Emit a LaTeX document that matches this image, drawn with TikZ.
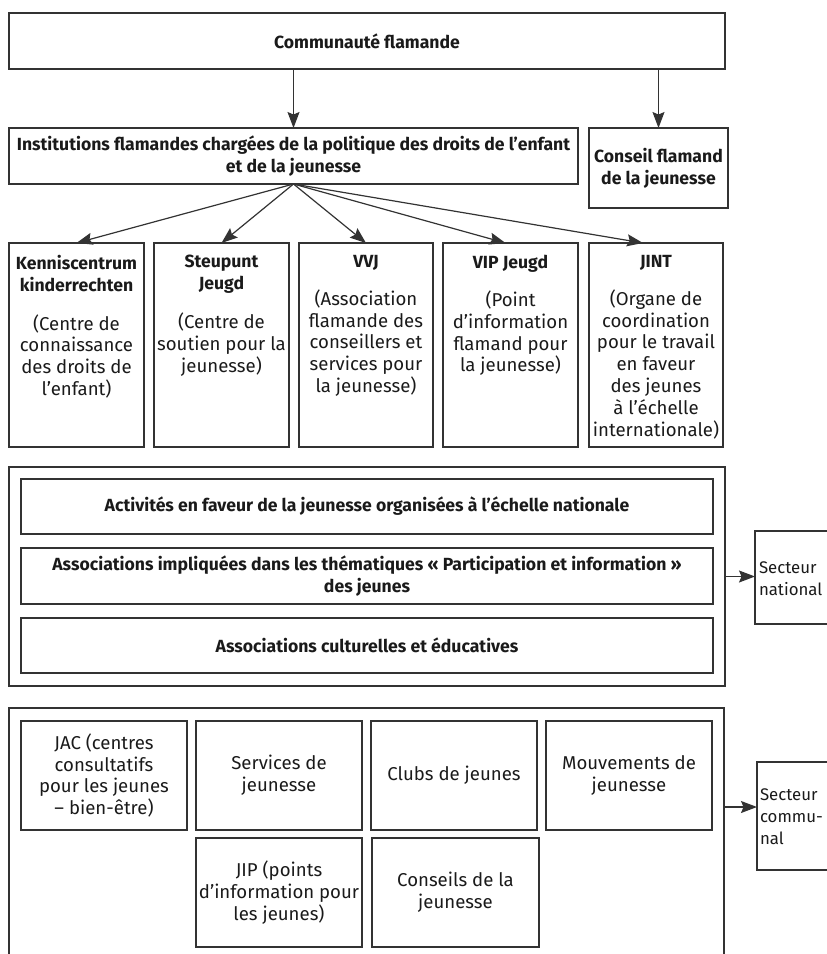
\documentclass[tikz,border=0pt]{standalone}
\usepackage{fontspec}
\setmainfont{Fira Sans}
\usetikzlibrary{arrows.meta,calc}
\definecolor{linec}{HTML}{333333}
\definecolor{textc}{HTML}{1A1A1A}
\newcommand\fsz{\fontsize{18.6pt}{21.9pt}\selectfont}
\newcommand\fsside{\fontsize{16.8pt}{22pt}\selectfont}
\newcommand\bt[1]{{\fontsize{17.6pt}{21.9pt}\selectfont\bfseries #1}}
\tikzset{
  bx/.style={draw=linec, line width=1.2pt, inner sep=0pt, outer sep=0pt, align=center, font=\fsz, text=textc},
  txt/.style={inner sep=0pt, outer sep=0pt, align=center, font=\fsz, text=textc},
  sidetxt/.style={inner sep=0pt, outer sep=0pt, align=left, font=\fsside, text=textc},
  arr/.style={draw=linec, line width=1.2pt, -{Stealth[length=16pt,width=12pt,inset=2.5pt]}}
}
\begin{document}
\begin{tikzpicture}[x=1pt,y=-1pt]
\useasboundingbox (0,0) rectangle (827,954);
\clip (0,0) rectangle (827,954);
% top level
\node[bx, minimum width=716pt, minimum height=56pt] (comm) at (367,41) {\bt{Communauté flamande}};
\node[bx, minimum width=569pt, minimum height=56pt] (inst) at (293.5,156) {\bt{Institutions flamandes chargées de la politique des droits de l’enfant}\\\bt{et de la jeunesse}};
\node[bx, minimum width=139pt, minimum height=80pt] (cons) at (658.5,168) {\bt{Conseil flamand}\\\bt{de la jeunesse}};
% institutions row
\node[bx, minimum width=135pt, minimum height=204pt] (kenn) at (76.5,345) {};
\node[bx, minimum width=135pt, minimum height=204pt] (steu) at (221.5,345) {};
\node[bx, minimum width=134pt, minimum height=204pt] (vvj) at (366,345) {};
\node[bx, minimum width=135pt, minimum height=204pt] (vip) at (510.5,345) {};
\node[bx, minimum width=134pt, minimum height=204pt] (jint) at (656,345) {};
\node[txt, anchor=north] (kennt) at ($(kenn.north)+(0,12)$) {\bt{Kenniscentrum}\\\bt{kinderrechten}\\[17pt](Centre de\\connaissance\\des droits de\\l’enfant)};
\node[txt, anchor=north] (steut) at ($(steu.north)+(0,12)$) {\bt{Steupunt}\\\bt{Jeugd}\\[17pt](Centre de\\soutien pour la\\jeunesse)};
\node[txt, anchor=north] (vvjt) at ($(vvj.north)+(0,12)$) {\bt{VVJ}\\[16pt](Association\\flamande des\\conseillers et\\services pour\\la jeunesse)};
\node[txt, anchor=north] (vipt) at ($(vip.north)+(0,12)$) {\bt{VIP Jeugd}\\[16pt](Point\\d’information\\flamand pour\\la jeunesse)};
\node[txt, anchor=north] (jintt) at ($(jint.north)+(0,12)$) {\bt{JINT}\\[16pt](Organe de\\coordination\\pour le travail\\en faveur\\des jeunes\\à l’échelle\\internationale)};
% national sector
\node[bx, minimum width=716pt, minimum height=219pt] (nat) at (367,576.5) {};
\node[bx, minimum width=692pt, minimum height=55pt] (act) at (367,506.5) {\bt{Activités en faveur de la jeunesse organisées à l’échelle nationale}};
\node[bx, minimum width=692pt, minimum height=56pt] (assp) at (367,576) {\bt{Associations impliquées dans les thématiques « Participation et information »}\\\bt{des jeunes}};
\node[bx, minimum width=692pt, minimum height=55pt] (assc) at (367,645.5) {\bt{Associations culturelles et éducatives}};
\node[bx, minimum width=85pt, minimum height=93pt] (secn) at (797.5,577.5) {};
\node[sidetxt, anchor=west] (secnt) at (759,579) {Secteur\\national};
% communal sector
\node[bx, minimum width=715pt, minimum height=262pt] (com) at (366.5,839) {};
\node[bx, minimum width=166pt, minimum height=109pt] (jac) at (104,775.5) {JAC (centres\\consultatifs\\pour les jeunes\\– bien-être)};
\node[bx, minimum width=166pt, minimum height=109pt] (serv) at (279,775.5) {Services de\\jeunesse};
\node[bx, minimum width=166pt, minimum height=109pt] (club) at (454,775.5) {Clubs de jeunes};
\node[bx, minimum width=166pt, minimum height=109pt] (mouv) at (629,775.5) {Mouvements de\\jeunesse};
\node[bx, minimum width=166pt, minimum height=109pt] (jip) at (279,892.5) {JIP (points\\d’information pour\\les jeunes)};
\node[bx, minimum width=167pt, minimum height=109pt] (conj) at (455.5,892.5) {Conseils de la\\jeunesse};
\node[bx, minimum width=83pt, minimum height=108pt] (secc) at (798.5,816) {};
\node[sidetxt, anchor=west] (secct) at (760,817) {Secteur\\commu-\\nal};
% connectors
\draw[arr] (comm.south -| inst.north) -- (inst.north);
\draw[arr] (comm.south -| cons.north) -- (cons.north);
\draw[arr] (inst.south) -- (kenn.north);
\draw[arr] (inst.south) -- (steu.north);
\draw[arr] (inst.south) -- (vvj.north);
\draw[arr] (inst.south) -- ($(vip.north)+(-5,0)$);
\draw[arr] (inst.south) -- ($(jint.north)+(-13,0)$);
\draw[arr] (nat.east) -- (nat.east -| secn.west);
\coordinate (cin) at ($(secc.west)+(0,-9)$);
\draw[arr] (com.east |- cin) -- (cin);
\end{tikzpicture}
\end{document}
